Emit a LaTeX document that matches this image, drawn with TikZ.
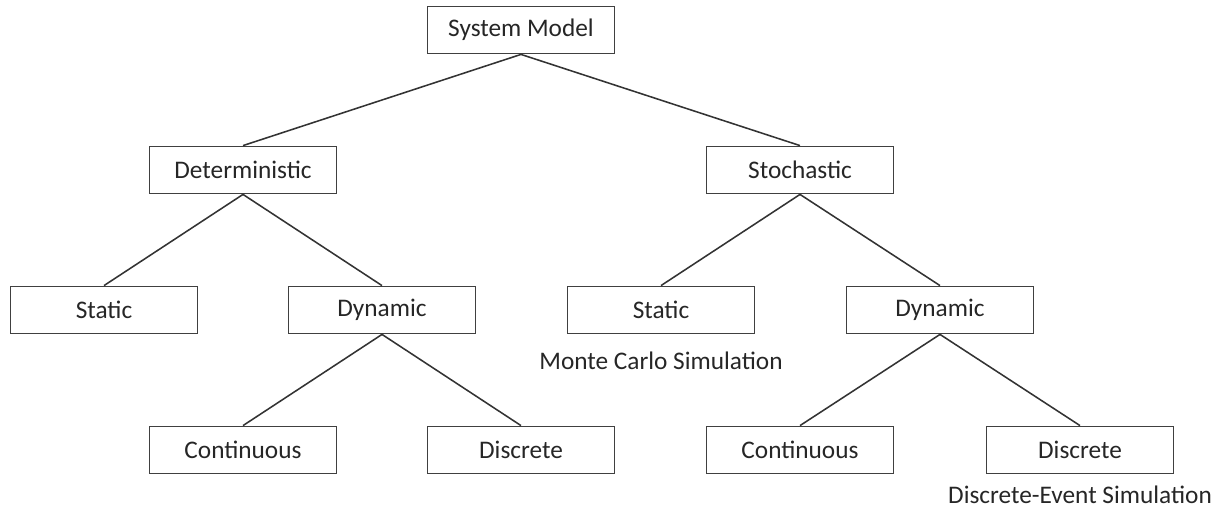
\documentclass[tikz,border=0pt]{standalone}
\usepackage{fontspec}
\setmainfont{Carlito}
\usetikzlibrary{positioning}

\tikzset{
	box/.style={draw=black!75,line width=1.3pt,fill=white,minimum width=4.675cm,minimum height=1.175cm,inner sep=0pt,font=\fontsize{18}{21}\selectfont,text=black!85},
	note/.style={font=\fontsize{18}{21}\selectfont,text=black!85,inner sep=1pt},
	link/.style={draw=black!80,line width=1.1pt}
}

\begin{document}
\begin{tikzpicture}[on grid]
		\useasboundingbox (0,0) rectangle (30.525,-12.75);
		\node[box](SM) at (13.025,-0.75){System Model};
		\node[box,below left=3.5cm and 6.95cm of SM](Det){Deterministic};
		\node[box,below right=3.5cm and 6.975cm of SM](Sto){Stochastic};
		\node[box,below left=3.5cm and 3.475cm of Det](StaL){Static};
		\node[box,below right=3.5cm and 3.475cm of Det](DynL){Dynamic};
		\node[box,below left=3.5cm and 3.475cm of Sto](StaR){Static};
		\node[box,below right=3.5cm and 3.5cm of Sto](DynR){Dynamic};
		\node[box,below left=3.5cm and 3.475cm of DynL](ConL){Continuous};
		\node[box,below right=3.5cm and 3.475cm of DynL](DisL){Discrete};
		\node[box,below left=3.5cm and 3.5cm of DynR](ConR){Continuous};
		\node[box,below right=3.5cm and 3.5cm of DynR](DisR){Discrete};
		\node[note,below=1.275cm of StaR](MC){Monte Carlo Simulation};
		\node[note,below=1.13cm of DisR](DES){Discrete-Event Simulation};
		\foreach \a/\b in {SM/Det,SM/Sto,Det/StaL,Det/DynL,Sto/StaR,Sto/DynR,DynL/ConL,DynL/DisL,DynR/ConR,DynR/DisR}
			\draw[link] (\a.south) -- (\b.north);
	\end{tikzpicture}
\end{document}
